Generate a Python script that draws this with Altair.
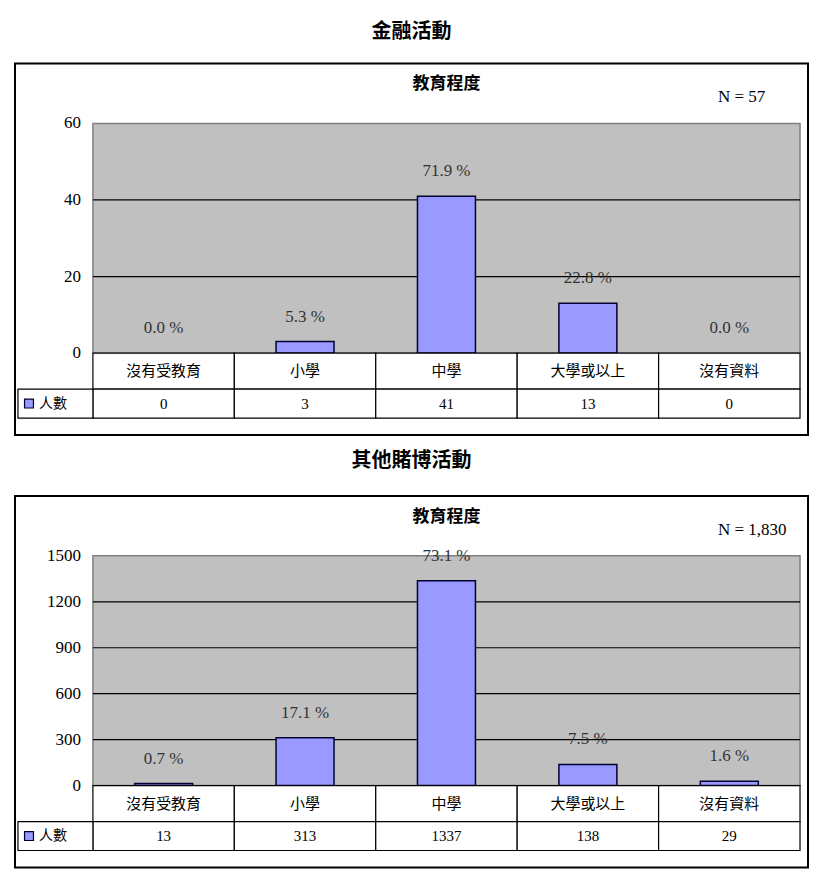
import altair as alt
import pandas as pd

# ---------------- data ----------------
categories = ["沒有受教育", "小學", "中學", "大學或以上", "沒有資料"]

finance_counts = [0, 3, 41, 13, 0]
finance_pcts = ["0.0 %", "5.3 %", "71.9 %", "22.8 %", "0.0 %"]
finance_ticks = [0, 20, 40, 60]

other_counts = [13, 313, 1337, 138, 29]
other_pcts = ["0.7 %", "17.1 %", "73.1 %", "7.5 %", "1.6 %"]
other_ticks = [0, 300, 600, 900, 1200, 1500]

section_titles = ["金融活動", "其他賭博活動"]
chart_title = "教育程度"
n_labels = ["N = 57", "N = 1,830"]
legend_label = "人數"

# ---------------- style / layout ----------------
BAR = "#9999ff"
BAR_STROKE = "#000033"
GRAY = "#c0c0c0"
SERIF = "Liberation Serif"
CJK = "Noto Sans CJK TC"

W = 794          # box width (view)
PLOT_H = 230     # plot area height in px
TOP_PAD = 60     # box top -> plot top
ROW1 = 36        # category row height
ROW2 = 29        # count row height
BOT_PAD = 17     # table bottom -> box bottom
H = TOP_PAD + PLOT_H + ROW1 + ROW2 + BOT_PAD

X_MIN, X_MAX = -0.551, 5.0565   # column units; columns occupy [i, i+1]
LEG_LEFT = -0.53
LEG_SYM = -0.452
BAR_HALF = 0.205


def section(title, counts, pcts, ticks, n_label, title_offset):
    ymax = ticks[-1]
    u = ymax / PLOT_H
    r1 = -ROW1 * u
    r2 = -(ROW1 + ROW2) * u
    xs = alt.Scale(domain=[X_MIN, X_MAX], nice=False, zero=False)
    ys = alt.Scale(domain=[-(ROW1 + ROW2 + BOT_PAD) * u, ymax + TOP_PAD * u],
                   nice=False, zero=False)

    def X(f):
        return alt.X(f, type="quantitative", scale=xs, axis=None)

    def Y(f):
        return alt.Y(f, type="quantitative", scale=ys, axis=None)

    idx = list(range(len(categories)))
    df = pd.DataFrame({"cat": categories, "i": idx, "count": counts, "pct": pcts})
    df["xl"] = df["i"]
    df["xr"] = df["i"] + 1
    df["xc"] = df["i"] + 0.5
    df["b0"] = df["xc"] - BAR_HALF
    df["b1"] = df["xc"] + BAR_HALF
    df["zero"] = 0.0
    df["r1"] = r1
    df["r2"] = r2
    df["r1c"] = r1 / 2
    df["r2c"] = (r1 + r2) / 2
    df["countstr"] = df["count"].map(lambda v: f"{v}")

    bg_df = pd.DataFrame({"x": [0], "x2": [5], "y": [0], "y2": [ymax]})
    grid_df = pd.DataFrame({"t": ticks[1:-1], "x": 0, "x2": 5})
    tick_df = pd.DataFrame({"t": ticks, "x": 0, "lab": [f"{t}" for t in ticks]})
    leg_df = pd.DataFrame({"x": [LEG_LEFT], "x2": [0], "y": [r1], "y2": [r2],
                           "xs": [LEG_SYM],
                           "yc": [(r1 + r2) / 2], "lab": [legend_label]})
    ann_df = pd.DataFrame({"x": [2.5], "y": [ymax + 39 * u], "lab": [chart_title]})
    n_df = pd.DataFrame({"x": [4.42], "y": [ymax + 26 * u], "lab": [n_label]})

    bg = alt.Chart(bg_df).mark_rect(fill=GRAY, stroke="#808080", strokeWidth=1.5).encode(
        x=X("x"), x2="x2", y=Y("y"), y2="y2")
    grid = alt.Chart(grid_df).mark_rule(color="black", strokeWidth=1.2).encode(
        x=X("x"), x2="x2", y=Y("t"))
    bars = alt.Chart(df[df["count"] > 0]).mark_rect(
        fill=BAR, stroke=BAR_STROKE, strokeWidth=1.5).encode(
        x=X("b0"), x2="b1", y=Y("zero"), y2="count")
    pct = alt.Chart(df).mark_text(font=SERIF, fontSize=17, color="#333333",
                                  baseline="middle", dy=-25).encode(
        x=X("xc"), y=Y("count"), text="pct:N")
    ticklab = alt.Chart(tick_df).mark_text(font=SERIF, fontSize=17, color="black",
                                           align="right", baseline="middle", dx=-12).encode(
        x=X("x"), y=Y("t"), text="lab:N")
    row1 = alt.Chart(df).mark_rect(fill="white", stroke="black", strokeWidth=1.2).encode(
        x=X("xl"), x2="xr", y=Y("zero"), y2="r1")
    row2 = alt.Chart(df).mark_rect(fill="white", stroke="black", strokeWidth=1.2).encode(
        x=X("xl"), x2="xr", y=Y("r1"), y2="r2")
    legcell = alt.Chart(leg_df).mark_rect(fill="white", stroke="black", strokeWidth=1.2).encode(
        x=X("x"), x2="x2", y=Y("y"), y2="y2")
    row1txt = alt.Chart(df).mark_text(font=CJK, fontSize=15, color="black",
                                      baseline="middle").encode(
        x=X("xc"), y=Y("r1c"), text="cat:N")
    row2txt = alt.Chart(df).mark_text(font=SERIF, fontSize=15, color="black",
                                      baseline="middle").encode(
        x=X("xc"), y=Y("r2c"), text="countstr:N")
    legsym = alt.Chart(leg_df).mark_point(shape="square", filled=True, size=80,
                                          fill=BAR, stroke="#000033", strokeWidth=1.2,
                                          opacity=1).encode(
        x=X("xs"), y=Y("yc"))
    legtxt = alt.Chart(leg_df).mark_text(font=CJK, fontSize=14, color="black",
                                         align="left", baseline="middle", dx=10).encode(
        x=X("xs"), y=Y("yc"), text="lab:N")
    ann = alt.Chart(ann_df).mark_text(font=CJK, fontSize=17, fontWeight="bold",
                                      color="black", baseline="middle").encode(
        x=X("x"), y=Y("y"), text="lab:N")
    nlab = alt.Chart(n_df).mark_text(font=SERIF, fontSize=17, color="black",
                                     align="left", baseline="middle").encode(
        x=X("x"), y=Y("y"), text="lab:N")

    return alt.layer(bg, grid, bars, row1, row2, legcell, pct, ticklab,
                     row1txt, row2txt, legsym, legtxt, ann, nlab).properties(
        width=W, height=H,
        title=alt.TitleParams(title, font=CJK, fontSize=20, fontWeight="bold",
                              color="black", anchor="middle", offset=title_offset))


top = section(section_titles[0], finance_counts, finance_pcts, finance_ticks,
              n_labels[0], 22)
bottom = section(section_titles[1], other_counts, other_pcts, other_ticks,
                 n_labels[1], 25)

chart = alt.vconcat(top, bottom, spacing=14).resolve_scale(
    x="independent", y="independent").properties(
    padding={"left": 6, "top": 12, "right": 5, "bottom": 5},
    background="white").configure_view(stroke="black", strokeWidth=2)

chart.save("out.html", embed_options={"renderer": "svg", "actions": False})
